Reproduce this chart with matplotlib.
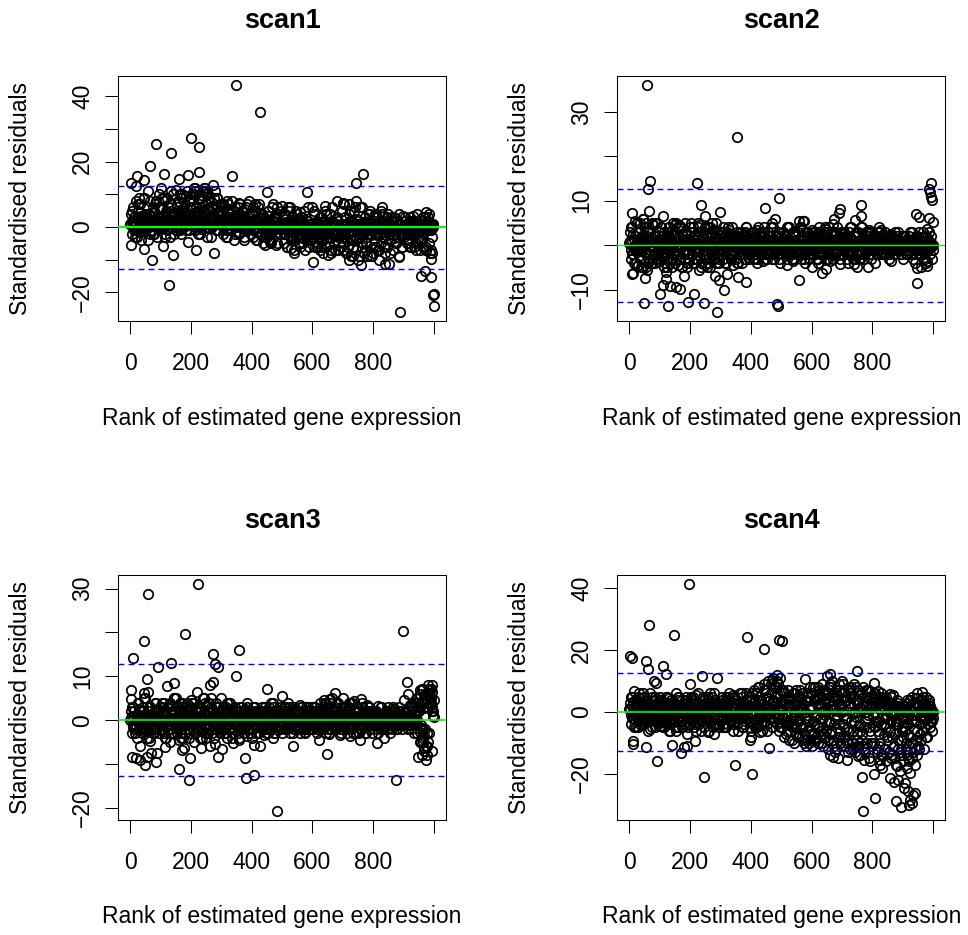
import matplotlib
matplotlib.use('Agg')
import matplotlib.pyplot as plt

plt.rcParams['font.family'] = ['Liberation Sans', 'DejaVu Sans']
plt.rcParams['lines.scale_dashes'] = False

# ---------------- data ----------------
titles = ['scan1', 'scan2', 'scan3', 'scan4']
x_label = 'Rank of estimated gene expression'
y_label = 'Standardised residuals'
cutoff = 12.7

# innermost band: residuals at ranks 1, 5, 9, ... (every 4th gene)
s1_inner = [1,2,0,3,1.5,-1,2.5,0.5,1,3.5,0,2,-0.5,1.5,2.5,0,1,3,-1,2,0.5,1.5,3,0,2,
            2,0.5,3,1,4,-0.5,2.5,1.5,3.5,0,2,4,1,-1,3,1.5,2.5,0,3.5,2,1,4.5,0.5,2,3,
            2.5,1,4,0,3,5,1.5,2,-0.5,3.5,1,4.5,2,0,3,5.5,1,2.5,4,0.5,3,1.5,-1,2,3.5,
            1,2.5,0,1.5,-1,3,0.5,2,-0.5,1,3.5,0,2,1,-1.5,2.5,0.5,1.5,3,0,1,-1,2,0.5,1.5,
            0.5,-1,1.5,0,2,-1.5,1,2.5,-0.5,0,1.5,-2,1,0.5,2,-1,0,1.5,-0.5,2.5,0,-1.5,1,0.5,-0.5,
            -0.5,1,-2,0,1.5,-1,-2.5,0.5,-1.5,1,0,-2,-0.5,1.5,-1,0,-3,0.5,-1.5,1,-0.5,-2,0,1,-1,
            -1,0.5,-2,1,-3,0,-1.5,1.5,-2.5,-0.5,0.5,-2,1,-1,-3.5,0,-1.5,0.5,-2.5,1,-0.5,-2,0,-1,1,
            -1.5,0.5,-3,1,-2,0,-4,-1,1.5,-2.5,0,-3.5,-1,1,-2,-0.5,-4.5,0.5,-1.5,1.5,-3,0,-2,-1,1,
            -1,0.5,-2,1,-0.5,-2.5,0,1.5,-1.5,-3,0.5,-1,1,-2,0,-0.5,1.5,-2.5,0,-1,1,-1.5,0.5,-2,0,
            0,-0.5,1,-1,0.5,-1.5,0,1,-0.5,0.5,-1,0,1.5,-1,0,0.5,-1.5,0,1,-0.5,0,0.5,-1,0,0]
s2_inner = [0.5,-1,1,-0.5,1.5,0,-1.5,1,0.5,-1,2,0,-0.5,1,-2,0.5,1.5,-1,0,1,-0.5,2,-1.5,0.5,0,
            -0.5,1,0,-1.5,1.5,0.5,-1,2,0,-0.5,1,-2,0.5,1.5,-1,0,2,-0.5,1,-1.5,0.5,0,1.5,-1,0,
            1,-0.5,0,1.5,-1,0.5,2,-1.5,0,1,-0.5,1.5,-2,0.5,0,1,-1,2,0,-0.5,1,-1.5,0.5,1.5,0,
            0,1,-1,0.5,1.5,-0.5,0,2,-1.5,0.5,1,-1,0,1.5,-0.5,0.5,-2,1,0,1.5,-1,0.5,0,-0.5,1,
            0.5,-0.5,1.5,0,-1,1,0.5,-1.5,2,0,-0.5,1,0,1.5,-1,0.5,0,-1.5,1,0.5,-0.5,2,0,-1,0.5,
            0,1,-0.5,0.5,-1.5,1.5,0,-1,1,0.5,-0.5,2,0,-1,0.5,1,-1.5,0,1.5,-0.5,0.5,-1,1,0,0.5,
            0.5,-1,1,0,1.5,-0.5,0,-1.5,1,0.5,2,-1,0,0.5,-0.5,1.5,0,-1,1,0.5,-1.5,0,1,-0.5,0.5,
            0,1,-0.5,1.5,0,-1,0.5,1,-1.5,0,2,-0.5,0.5,1,-1,0,1.5,-0.5,0.5,-1.5,1,0,0.5,-1,1,
            0.5,0,-0.5,1,0,-1,0.5,1,-0.5,0,1.5,-1,0,0.5,-0.5,1,0,-1,0.5,0,1,-0.5,0.5,0,-0.5,
            0,0.5,-0.5,1,0,-1,0.5,0,1,-0.5,0,0.5,-1,0,1,0.5,-0.5,0,1,-0.5,0.5,0,-0.5,0.5,0]
s3_inner = [0,1,-1,0.5,-1.5,1.5,0,-0.5,1,-1,2,0,-1.5,0.5,1,-0.5,0,1.5,-1,0.5,-2,1,0,-0.5,1,
            0.5,-1,1.5,0,-0.5,1,-2,0.5,1.5,-1,0,2,-0.5,0.5,-1.5,1,0,-1,1.5,0.5,-0.5,0,1,-2,0.5,
            0,1.5,-1,0.5,1,-0.5,2,-1.5,0,1,0.5,-1,1.5,0,-2,1,0.5,-0.5,2,0,-1,1,0.5,-1.5,0,
            1,-0.5,0,1.5,-1,0.5,0,-1.5,1,0.5,-0.5,2,0,-1,1,0.5,-1.5,0,1.5,-0.5,0.5,-1,1,0,-0.5,
            0.5,0,-1,1,0.5,-0.5,1.5,0,-1.5,0.5,1,-1,0,2,-0.5,0.5,-1,1,0,-1.5,1.5,0.5,-0.5,0,1,
            0,-0.5,1,0.5,-1,1.5,0,-1.5,0.5,1,-0.5,0,2,-1,0.5,0,1,-1.5,0.5,1.5,-0.5,0,1,-1,0.5,
            0.5,1,-0.5,0,1.5,-1,0.5,2,0,-1.5,1,0.5,-0.5,2.5,0,-1,1.5,0.5,-0.5,1,2,-1,0,1.5,0.5,
            1,-0.5,0.5,2,0,-1,1.5,0.5,-1.5,1,0,2,-0.5,0.5,1,-1,0,1.5,0.5,-0.5,1,0,-1,1.5,0.5,
            0.5,0,1,-0.5,0.5,-1,1,0,0.5,-1.5,1,0.5,0,-0.5,1.5,0,-1,0.5,1,0,-0.5,1,0.5,0,-0.5,
            0,1,-0.5,0.5,1,-1,0.5,0,1.5,-0.5,1,0,2,3,-1,4,-2,5,6,-3,3,7,5,2,1]
s4_inner = [1,-1,2,0,-2,1.5,-0.5,2.5,-1.5,0.5,3,-1,0,1.5,-2.5,1,0.5,-1,2,-2,0,1,-0.5,2.5,-1.5,
            0.5,-1.5,2,0,-2,1,3,-1,0.5,-2.5,1.5,0,-1,2.5,-0.5,1,-2,0,2,-1.5,0.5,3,-1,0,1.5,
            -1,2,0,-2.5,1,3,-0.5,0.5,-2,1.5,0,-1,2.5,-1.5,0.5,2,-3,1,0,-1,2,-0.5,1.5,-2,0.5,
            1,-1.5,2,0,-2,1.5,3,-1,0.5,-2.5,2,0,-1,2.5,-0.5,1,-2,0.5,3,-1.5,0,1.5,-1,2,0,
            1.5,-1,3,0,-2.5,2,4,-1.5,0.5,-3,2.5,0,5,-1,1,3.5,-2,0.5,4,-0.5,2,6,-1.5,1,3,
            0.5,-2,3,-1,-3.5,2,4.5,-2.5,0,-4,2,-1,3.5,0.5,-3,1.5,-5,0,2.5,-2,4,-1,-3,1,2,
            1,-3,4,-1.5,-4.5,2.5,5,-2,0,-5,3,-1,4.5,0.5,-3.5,2,-6,1,3.5,-2.5,5.5,-1,-4,1.5,2.5,
            0,-4,3.5,-2,-5.5,2,4.5,-3,-0.5,-6,2.5,-1.5,4,0,-4.5,1.5,-7,0.5,3,-3,5,-1,-5,1,2,
            -1,-4.5,2,-3,-6,1,3,-4,-2,-7.5,0.5,-5,-1,2,-6.5,-3,-8,0,1.5,-4,-2,-9,-1,1,-5,
            -2,-5,0,-3.5,-7,0.5,2,-2.5,-1,-5.5,1.5,-3,0,2.5,-1.5,0.5,-1,1.5,-2,0,1,-0.5,0.5,-1,0]

# middle band: residuals at ranks 2, 6, 10, ... (every 4th gene)
s1_mid = [4,-2,6,1,8,-3,5,2,7,-1,3,9,0,6,-4,4,8,1,-2,5,7,2,-3,6,3,
          6,0,8,-2,5,9,2,-3,7,4,10,1,-1,6,8,3,-2,9,5,0,7,11,2,-1,6,
          8,2,10,-1,6,11,4,-2,9,5,12,1,7,-3,10,3,8,0,6,11,2,9,-1,5,7,
          5,-2,6,1,-3,7,3,-1,5,2,-4,6,0,4,-2,7,1,5,-3,3,6,-1,4,2,-2,
          4,-3,5,0,-4,6,2,-2,4,-5,3,1,-3,5,0,-4,6,2,-1,3,-5,4,0,-2,5,
          3,-5,4,-2,-6,5,1,-4,3,-7,2,-3,4,-1,-6,3,0,-5,5,-2,-4,2,-6,1,-3,
          -3,4,-6,2,-5,1,-7,3,-4,-1,5,-6,0,-3,4,-8,2,-5,1,-4,3,-7,0,-2,5,
          -5,3,-8,1,-6,4,-9,0,-4,5,-7,2,-10,-3,6,-6,1,-8,3,-5,-2,4,-9,0,-6,
          -4,2,-6,3,-7,0,-5,4,-3,-8,1,-6,2,-4,-1,3,-7,0,-5,2,-3,-9,1,-6,-2,
          -3,2,-5,1,-4,3,-6,0,-2,2,-5,1,-3,-7,2,-4,0,3,-6,-1,2,-8,0,-3,1]
s2_mid = [3,-3,4,-2,2,-4,5,-1,3,-3,1,-5,4,-2,2,-4,3,-1,5,-3,2,-4,1,-2,3,
          -3,4,-2,3,-4,2,-5,4,-1,3,-3,2,-4,5,-2,1,-3,4,-5,2,-2,3,-4,1,-3,
          3,-2,4,-4,2,-3,5,-1,3,-5,2,-2,4,-3,1,-4,3,-2,5,-3,2,-4,1,-3,3,
          -2,3,-3,2,-4,3,-1,2,-3,4,-2,1,-3,3,-4,2,-2,3,-1,2,-3,4,-2,1,-2,
          2,-3,3,-2,1,-3,2,-1,3,-2,4,-3,1,-2,3,-1,2,-3,4,-2,1,-2,3,-3,2,
          -2,3,-1,2,-3,4,-2,1,-2,3,-3,2,-1,3,-2,4,-3,1,-2,3,-1,2,-3,2,-2,
          2,-2,3,-1,2,-3,4,-2,1,-2,3,-3,2,-1,4,-2,3,-3,1,-2,3,-1,2,-2,3,
          -2,3,-1,2,-3,3,-2,4,-1,2,-3,2,-2,3,-1,4,-2,2,-3,3,-1,2,-2,3,-1,
          2,-1,2,-2,3,-1,2,-2,1,-2,3,-1,2,-2,1,-1,2,-2,3,-1,2,-1,1,-2,2,
          -1,2,-2,1,-1,2,-2,3,-1,1,-2,2,-1,3,-2,1,-1,2,-3,2,-1,1,-2,2,-1]
s3_mid = [2,-3,3,-2,1,-4,4,-1,2,-3,3,-2,5,-1,2,-4,3,-2,1,-3,4,-2,2,-1,3,
          -2,3,-3,2,-4,3,-1,4,-2,2,-3,5,-1,3,-2,2,-4,3,-1,2,-3,4,-2,1,-3,
          3,-2,4,-3,2,-1,3,-4,2,-2,5,-3,1,-2,4,-1,3,-3,2,-2,4,-1,3,-2,2,
          -2,2,-3,3,-1,2,-2,4,-3,1,-2,3,-1,2,-4,3,-2,1,-3,2,-1,3,-2,2,-3,
          2,-2,3,-1,2,-3,2,-1,3,-2,1,-3,2,-1,3,-2,2,-1,3,-3,2,-1,2,-2,3,
          -1,2,-2,3,-1,2,-3,2,-1,3,-2,2,-1,2,-3,3,-1,2,-2,3,-1,2,-2,1,-2,
          2,-1,3,-2,2,-1,4,-2,3,-1,2,-3,3,-1,4,-2,2,-1,3,-2,4,-1,2,-2,3,
          -1,3,-2,2,-1,3,-2,4,-1,2,-3,3,-1,2,-2,3,-1,2,-3,2,-1,3,-2,2,-1,
          2,-1,2,-2,1,-1,3,-2,1,-1,2,-2,1,-1,2,-2,3,-1,1,-2,2,-1,2,-1,1,
          -1,2,-1,2,-1,1,-2,3,-1,2,4,-3,5,6,-5,7,-7,6,4,-8,8,5,7,3,2]
s4_mid = [3,-4,5,-2,4,-5,2,-3,6,-1,3,-4,5,-2,4,-6,3,-3,5,-1,4,-5,2,-3,4,
          -3,4,-5,3,-2,5,-4,2,-6,4,-1,3,-5,6,-2,4,-3,2,-5,3,-4,5,-2,3,-4,
          4,-3,5,-5,3,-2,6,-4,2,-3,5,-5,3,-2,4,-6,3,-3,5,-2,4,-4,3,-5,2,
          -3,5,-4,3,-5,4,-2,6,-3,2,-4,5,-3,4,-6,3,-2,5,-4,3,-3,6,-2,4,-5,
          5,-4,7,-3,6,-5,8,-2,4,-6,9,-3,7,-4,10,-2,6,-5,11,-3,8,-4,9,-6,7,
          -5,6,-8,4,-6,7,-9,5,-3,6,-10,3,-7,5,-8,7,-4,6,-9,4,-11,5,-6,8,-7,
          6,-7,8,-9,5,-10,7,-6,9,-11,4,-8,6,-12,8,-7,10,-9,5,-13,7,-8,9,-10,6,
          -8,7,-11,5,-9,8,-12,6,-10,9,-13,4,-11,7,-14,6,-9,8,-12,5,-10,7,-15,3,-11,
          4,-10,6,-13,3,-11,5,-14,2,-12,4,-16,1,-13,3,-15,0,-11,2,-17,4,-12,1,-14,-6,
          -8,2,-12,4,-15,1,-10,5,-13,3,-9,6,-11,2,-7,4,-6,3,-5,2,-4,3,-3,1,-2]

# dense core: residuals at ranks 3, 8, 13, ... (every 5th gene)
s1_core = [0.5,2,-1,1.5,3,0,-1.5,2.5,1,4,-0.5,2,0,3.5,1,-2,2,0.5,3,1,
           1.5,3,0,4,-1,2.5,5,1,3,0,2,4.5,-1,3,1.5,5.5,0.5,2,4,1,
           3,6,1,4.5,2,7,0,3.5,5,1.5,4,0,2.5,6,1,3,-1,2,4,0.5,
           2,0,3.5,1,-1,2.5,4,0.5,1.5,-1.5,3,1,0,2,4.5,-0.5,1.5,3,0,2,
           1,-1,2.5,0,3,-2,1.5,0.5,-1,2,3.5,0,-1.5,1,2,-0.5,3,0.5,-2,1,
           0,-2,1.5,-1,2,-3,0.5,1,-1.5,2.5,-2.5,0,1.5,-1,0.5,-3,2,-0.5,1,-2,
           -1,1,-2.5,0.5,-3.5,1.5,-1,-2,2,-0.5,-3,0.5,1.5,-2,-1,2.5,-3,0,-1.5,1,
           -2,1,-3.5,0,2,-1.5,-4,1,-0.5,2.5,-3,0,-2,1.5,-1,-4.5,0.5,2,-2.5,-1,
           -1,1,-2.5,0.5,-0.5,2,-3,0,1,-1.5,-2,0.5,1.5,-3.5,0,-1,1,-2,0.5,-0.5,
           0.5,-1,1,-2,0,1.5,-0.5,-1.5,1,0,-1,0.5,-2,1,0,-0.5,0.5,-1,0,0.5]
s2_core = [1,-2,2.5,-1,0,3,-2.5,1.5,-0.5,2,-1.5,0.5,3.5,-2,1,-1,2,-3,0.5,1.5,
           -1,2,-2.5,1,0,3,-1.5,0.5,2.5,-2,1,-0.5,2,-3,0,1.5,-1,2.5,-2,0.5,
           1,-2,2,-1,0.5,3,-2.5,0,1.5,-1,2,-2,0.5,2.5,-1.5,1,-0.5,3,-2,0,
           0.5,-1.5,2,-1,1,2.5,-2,0,1.5,-0.5,2,-1,0,1,-2,2.5,0.5,-1,1.5,0,
           1,-1,2,0,-1.5,1.5,2.5,-0.5,0.5,-2,1,2,-1,0,1.5,-1.5,2,0.5,-0.5,1,
           -1,1.5,0,2,-1.5,0.5,1,-2,2.5,0,-1,1.5,-0.5,2,0,-2,1,0.5,-1,1.5,
           0.5,-1,2,0,-1.5,1,2.5,-0.5,0,1.5,-2,1,0.5,-1,2,0,-1.5,1,2,-0.5,
           1,-1,2,0.5,-1.5,1.5,0,-0.5,2,-1,1,0,-2,1.5,0.5,-1,2,0,-0.5,1,
           0.5,-1,1.5,0,-0.5,1,-1.5,0.5,1,0,-1,1.5,0,-0.5,1,-1,0.5,0,1,-0.5,
           0,1,-1,0.5,-0.5,1,0,-1,1.5,0,-0.5,1,0,0.5,-1,1,0,0.5,-0.5,0]
s3_core = [0.5,-1.5,2,-1,0,2.5,-2,1,-0.5,1.5,-2.5,0.5,3,-1,1,-1.5,2,-2,0,1,
           -1,2,-2.5,1,0,3,-2,0.5,2,-1.5,1,-0.5,2.5,-3,0,1.5,-1,2,-2,0.5,
           1,-2,2.5,-1,0,3,-2.5,1,1.5,-1.5,2,-2,0.5,2.5,-1,1,-0.5,3,-2,0,
           0.5,-1.5,2,-1,1,2.5,-2,0,1.5,-1,2,-1.5,0,1,-2,2.5,0.5,-1,1.5,0,
           1,-1,2,0,-1.5,1.5,2,-1,0.5,-2,1,2,-1,0,1.5,-1.5,2,0.5,-0.5,1,
           -0.5,1.5,0,2,-1.5,0.5,1,-2,2.5,0,-1,1.5,-0.5,2,0,-2,1,0.5,-1,1.5,
           0.5,-1,2,0,-1.5,1,2.5,-0.5,0,1.5,-2,1,0.5,-1,2.5,0,-1.5,1,2,-0.5,
           1,-1.5,2,0.5,-1.5,1.5,0,-0.5,2,-1,1,0,-2,1.5,0.5,-1,2,0,-0.5,1,
           0.5,-1,1.5,0,-0.5,1,-1.5,0.5,1,0,-1,1.5,0,-0.5,1,-1,0.5,0,1,-0.5,
           0,1,-1,0.5,-0.5,1,0,1.5,2,3,-2,4,-4,5,3,-6,6,4,2,1]
s4_core = [1,-2,3,-1,0,2,-3,1.5,-0.5,2.5,-2,0.5,3,-1.5,1,-1,2,-2.5,0,1.5,
           -1,2,-3,1,0,3,-2,0.5,2.5,-2.5,1,-0.5,2,-3,0,1.5,-1,3,-2,0.5,
           1,-2,2.5,-1,0,3,-2.5,1,1.5,-1.5,2,-2,0.5,3,-1,1,-0.5,2.5,-2,0,
           1,-2,2,-1,1.5,3,-2.5,0,2,-1,2.5,-1.5,0,1,-2,3,0.5,-1,2,0,
           2,-1,3.5,0,-2,2.5,4,-1,1,-3,2,4.5,-1.5,0.5,3,-2,5,1,-1,2,
           1,-3,3,-1,-4,2,4,-2,0,-5,2.5,-3,1,3,-4.5,0,-2,3.5,-5,1,
           2,-4,4,-1,-5,3,5,-2,0,-6,3,-3,1,5,-4,1,-2,4,-6,2,
           1,-5,4,-2,-6,3,5,-3,0,-7,3,-4,1,5,-5,0,-2,4,-6,2,
           -1,-5,2,-3,-7,1,3,-4,-2,-8,1,-6,-1,2,-7,-3,-4,1,-9,-2,
           -2,-6,0,-4,-8,1,2,-3,-1,-6,2,-4,0,3,-2,1,-1,2,-3,0]

# wider band: residuals at ranks 5, 15, 25, ... (every 10th gene)
s1_wide = [5,-3,7,-4,9,3,-2,6,8,-1, 9,-3,6,11,-2,7,10,4,-1,8,
           10,12,-2,8,11,5,-3,9,6,4, 7,-3,5,8,-2,6,3,-4,7,2,
           6,-4,7,4,-3,5,-5,3,6,-2, 4,-6,6,-3,5,-5,3,-7,6,-4,
           5,-6,3,-8,4,-5,6,-7,2,-6, 7,-8,5,-6,8,-9,6,-7,4,-9,
           4,-7,5,-6,3,-8,2,-5,4,-6, 3,-5,2,-6,4,-4,3,-7,4,-8]
s2_wide = [4,-4,5,-3,6,-5,3,-4,5,-3, 4,-5,3,-4,5,-3,4,-5,3,-4,
           5,-3,4,-4,3,-5,4,-3,5,-4, 3,-4,4,-3,2,-4,3,-2,4,-3,
           3,-3,4,-2,3,-3,4,-3,2,-4, 3,-2,4,-3,3,-2,4,-3,3,-2,
           3,-3,2,-2,4,-3,3,-2,4,-3, 3,-2,4,-3,3,-3,4,-2,3,-3,
           2,-2,3,-2,2,-3,2,-2,3,-2, 2,-2,3,-3,2,-2,3,-4,3,-3]
s3_wide = [3,-3,4,-2,5,-4,3,-3,4,-3, 4,-4,3,-3,5,-3,4,-4,3,-4,
           4,-3,3,-4,4,-3,5,-4,3,-3, 3,-3,4,-4,2,-3,3,-2,4,-3,
           3,-3,2,-2,3,-3,4,-3,2,-2, 3,-2,3,-3,2,-2,3,-3,3,-2,
           3,-3,2,-2,4,-3,5,-2,4,-3, 3,-3,4,-3,3,-3,4,-3,3,-3,
           2,-3,3,-2,2,-3,2,-2,3,-2, 2,-2,3,-3,4,-5,7,-6,6,-7]
s4_wide = [5,-5,4,-4,6,-3,3,-5,5,-4, 4,-5,5,-4,3,-6,5,-3,4,-5,
           5,-4,3,-6,4,-3,6,-5,3,-4, 4,-5,5,-3,3,-4,6,-5,4,-3,
           6,-5,8,-4,7,-6,9,-3,10,-5, 7,-7,5,-9,6,-8,4,-10,6,-9,
           8,-8,6,-10,7,-9,8,-11,5,-8, 9,-10,7,-12,8,-11,6,-13,7,-10,
           6,-12,4,-14,5,-13,3,-15,2,-12, 2,-14,4,-10,3,-12,5,-8,4,-6]

# individually read points (rank, residual)
s1_rank = [2,23,45,64,84,113,134,152,162,192,200,226,228,274,337,349,426,450,581,745,767,
           127,72,141,217,191,275,46,2,109,445,603,760,838,853,884,887,959,972,992,992,997,999,1000,974,
           170,210,240,250,260,185,30,95,110,60,20,100,285,295,320,360,390,410,470,500,520,560,600,640,
           680,700,720,740,790,810,830,850,870,900,930,980,985,990,975,965,940,920,700,720,735,780,800,
           820,540,530,480,460,650,660,630,560,205,215,222,245,255]
s1_resid = [13.6,15.6,14.4,18.8,25.3,16.4,22.6,11.4,14.7,15.8,27.4,24.4,16.9,12.9,15.7,43.5,35.4,10.6,10.8,13.4,16.4,
            -17.9,-10,-8.7,-6.9,-4.7,-8,-6.7,-5.5,-5.8,-5.5,-10.7,-11.6,-11.4,-11.4,-9.2,-26,-15,-13.5,-15.4,-9.9,-20.7,-20.5,-24.2,4.5,
            10,12,11,10.5,9,9.5,9,10,9,11,12.5,12,9,7,8,7.5,8,7,7,6.5,6,4.5,6,6.5,
            8,7.5,7,6,5,4,6,4,3,3.5,3.5,3,-5,-7,-7,-6,-7,-6,-7,-10,-9,-9,-8,
            -10,-8,-6.5,-5.5,-4.5,-8.5,-7,-6,-5,10,11,9,12,8]

s2_rank = [60,355,70,62,223,237,248,300,66,8,113,448,494,
           48,127,194,214,246,288,311,101,120,120,111,136,153,168,485,489,383,358,9,13,52,281,294,180,322,
           993,987,990,993,996,943,955,986,1000,979,947,979,948,560,694,690,675,672,744,763,764,821,571,645,
           785,636,647,748,738,695,
           20,35,45,55,80,90,130,150,165,185,200,230,260,280,310,330,30,40,60,75,95,140,160,190,210,230,250,
           265,340,370,420,440,520,540,580,600,620,660,720,760,810,860,900,940,960,980,380,420,470,480,520,
           560,575,600,620,650,700,790,830,860]
s2_resid = [36.0,24.3,14.4,12.6,14.0,9.05,6.6,7.5,7.8,7.2,6.5,8.4,10.6,
            -13.1,-13.6,-12.7,-11.0,-13.0,-15.0,-10.1,-10.9,-6,-7.5,-8.9,-9.2,-9.3,-9.9,-13.3,-13.6,-8.2,-7.1,-6.5,-6.2,-7.3,-6.9,-7.9,-6.9,-6.5,
            13.9,12.7,12,10.8,10.2,7.1,6.4,6.2,5.3,3.7,-8.5,-4.7,-5.2,-7.9,8.2,7.3,5.8,4.7,5.7,6.6,9.0,4.1,5.4,3.6,
            -4.8,-6.2,-5.4,-4.9,-4.3,-4.3,
            5.5,5,6,5,4.5,5,4,4.5,4.5,5,4,4.5,4,3.5,4,3.5,-4.5,-5,-5.5,-4,-3.5,-5,-4.5,-5,-4,-5.5,-4.5,
            -5,-4.5,-4,-4,-3.5,-4.5,-3.5,-4,-5,-4,-3.5,-4,-3,-4,-3.5,-3,-4,-5,-3.5,3,3.5,5,6,4,
            5.5,5.5,3.5,3,3,2.5,3.5,3.5,2.5]

s3_rank = [224,60,182,45,11,274,280,289,359,93,135,348,56,2,2,46,58,123,144,263,273,220,452,
           162,195,383,409,485,7,19,32,49,70,86,56,33,66,90,197,172,178,289,304,379,232,263,116,340,409,429,384,
           899,910,916,874,536,648,623,655,948,961,974,967,964,969,956,962,994,983,978,1000,989,956,945,934,967,
           1000,676,659,637,761,736,815,901,920,758,813,835,725,577,692,
           110,150,170,200,240,260,300,320,130,160,210,250,280,320,360,400,440,470,500,470,500,520,560,600,640,
           700,720,780,850,870,990,985,975,995,970,980,985,990,960,950]
s3_resid = [30.95,28.8,19.6,18.1,14.2,15.1,12.7,12.2,15.9,12.2,13.0,10.1,9.3,6.9,4.9,6.1,6.5,7.8,8.4,7.9,8.7,6.4,7.1,
            -11.2,-13.7,-13.2,-12.5,-20.7,-8.3,-8.7,-9.1,-10.3,-7.5,-9.6,-8.5,-5.8,-4.7,-7.5,-8.6,-6.9,-6.4,-8.4,-6.6,-8.6,-6.4,-5.8,-6.2,-5.2,-5.6,-6.0,-3.6,
            20.3,8.8,5.9,-13.6,-6.0,-7.7,-4.5,-3.1,-8.3,-7.9,-9.0,-6.4,-4.9,-3.7,-2.6,-1.7,8.0,6.9,5.7,4.6,3.5,6.9,5.0,3.9,2.7,
            0.8,6.1,4.9,4.6,4.9,4.3,3.3,4.6,3.5,-4.5,-5.2,-4.1,-3.7,-2.6,-3.4,
            4,5,4,4.5,5,4,5,4,-5,-4.5,-5,-4,-5.5,-4,-4.5,-4,-3.5,-4,-3,4,5.5,4,3.5,3,4,
            5,4,3.5,3,2.5,7,5,6,6.5,-2,-5,-3,4,4,2]

s4_rank = [197,66,148,388,444,494,2,11,55,61,111,120,239,81,87,200,290,15,
           92,246,349,405,12,12,54,141,169,180,189,215,399,402,459,
           502,751,661,650,579,497,485,470,475,490,
           765,806,809,769,878,893,858,872,885,909,905,918,935,941,924,930,922,
           880,891,913,924,941,919,946,826,831,793,771,754,716,688,672,661,826,
           963,946,913,858,869,804,793,820,
           510,530,550,570,590,600,610,620,640,660,680,700,720,730,750,770,780,800,810,840,850,860,870,890,
           900,910,930,945,960,970,980,990,995,965,975,985,860,880,830,690,710,760,640,580,560,540,520,
           30,70,100,130,160,190,220,260,280,320,340,370,400,420,30,70,100,130,160,190,220,260,280,310,340,
           370,400,430]
s4_resid = [41.3,28.2,24.9,24.4,20.4,23.2,18.2,17.4,16.4,13.8,14.9,12.4,11.7,9.9,9.4,9.0,10.9,6.7,
            -15.9,-21,-17.3,-19.9,-9.5,-10.5,-11.3,-10.7,-13.4,-11.3,-11.1,-9.5,-8.9,-8.1,-11.8,
            23.1,13.3,12.3,11.8,10.6,11,12,10.5,8.5,9,
            -21.1,-20.2,-27.7,-32.0,-28.8,-30.6,-21.5,-22.6,-21.9,-22.9,-24.5,-25.4,-26.7,-26.3,-28.3,-29.4,-30.1,
            -17.5,-19.1,-18.1,-19.7,-17,-15.9,-13.8,-17,-18.1,-15.9,-15.4,-14.3,-15.4,-14.8,-14.6,-13.8,-15.4,
            6.4,4.5,2.9,5.8,5.4,9.4,6.7,6.9,
            6,-6,7,-8,-10,-11,-9,8,-7,9,-12,10,-13,8,-9,-11,7,-10,5,-12,-9,-14,-11,-13,
            -16,-10,-15,-12,-9,-12,-8,-5,-3,3,5,2,5,3,6,7,-8,-6,4,-7,5,-5,-4,
            5,6,5,4.5,5,4,5.5,5,6,5,5.5,6,5,6,-5,-5.5,-4.5,-6,-5,-7,-6,-6.5,-7,-5,-6,
            -5,-6,-6.5]

inner = [s1_inner, s2_inner, s3_inner, s4_inner]
mid = [s1_mid, s2_mid, s3_mid, s4_mid]
core = [s1_core, s2_core, s3_core, s4_core]
wide = [s1_wide, s2_wide, s3_wide, s4_wide]
ranks = [s1_rank, s2_rank, s3_rank, s4_rank]
resids = [s1_resid, s2_resid, s3_resid, s4_resid]
inner_ranks = list(range(1, 1000, 4))
mid_ranks = list(range(2, 1000, 4))
core_ranks = list(range(3, 1000, 5))
wide_ranks = list(range(5, 1000, 10))

M = '\u2212'
y_ticks = [[-20, -10, 0, 10, 20, 30, 40], [-10, 0, 10, 20, 30],
           [-20, -10, 0, 10, 20, 30], [-20, 0, 20, 40]]
y_tick_text = [[M + '20', '', '0', '', '20', '', '40'], [M + '10', '', '10', '', '30'],
               [M + '20', '', '0', '10', '', '30'], [M + '20', '0', '20', '40']]
x_ticks = [0, 200, 400, 600, 800, 1000]
x_tick_text = ['0', '200', '400', '600', '800', '']

# ---------------- layout (pixels) ----------------
W, H = 968, 935
fig = plt.figure(figsize=(W / 100, H / 100), dpi=100)
boxes = [(118.3, 76, 446, 321), (617.3, 76, 945.3, 321),
         (118.3, 575.3, 446, 820), (617.3, 575.3, 945.3, 820)]
green_w = [1.6, 0.95, 1.2, 1.2]
fs = 16.5

for i in range(4):
    l, t, r, b = boxes[i]
    ax = fig.add_axes([l / W, 1 - b / H, (r - l) / W, (b - t) / H])
    allx = inner_ranks + mid_ranks + core_ranks + wide_ranks + ranks[i]
    ally = inner[i] + mid[i] + core[i] + wide[i] + resids[i]
    ax.plot(allx, ally, 'o', mfc='none', mec='black', ms=6.8, mew=1.25, zorder=2)
    ax.axhline(0, color='#00FF00', lw=green_w[i], zorder=4)
    for c in (cutoff, -cutoff):
        ax.axhline(c, color='#0000FF', lw=1.0, dashes=(4.3, 2.9), zorder=3)
    ymin, ymax = min(ally), max(ally)
    ext = 0.04 * (ymax - ymin)
    ax.set_ylim(ymin - ext, ymax + ext)
    ax.set_xlim(1 - 0.04 * 999, 1000 + 0.04 * 999)
    ax.set_xticks(x_ticks)
    ax.set_xticklabels(x_tick_text, fontsize=fs)
    ax.set_yticks(y_ticks[i])
    ax.set_yticklabels(y_tick_text[i], fontsize=fs, rotation=90, va='center')
    ax.tick_params(axis='both', length=9.4, width=0.75, direction='out')
    ax.tick_params(axis='x', pad=13)
    ax.tick_params(axis='y', pad=8)
    for s in ax.spines.values():
        s.set_linewidth(0.75)
    cx = (l + r) / 2
    fig.text(cx / W, 1 - (t - 54.5) / H, titles[i], ha='center', va='center',
             fontsize=19.5, fontweight='bold')
    fig.text(cx / W, 1 - (b + 97) / H, x_label, ha='center', va='center', fontsize=fs)
    fig.text((l - 97.6) / W, 1 - ((t + b) / 2) / H, y_label, ha='center', va='center',
             rotation=90, fontsize=fs)

fig.savefig('out.png', dpi=100)
